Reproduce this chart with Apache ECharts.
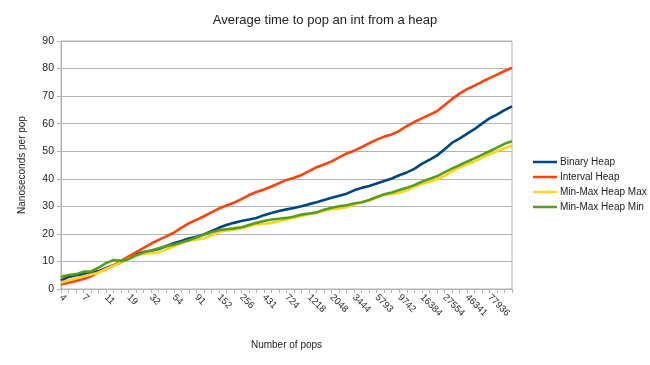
<!DOCTYPE html>
<html>
<head>
<meta charset="utf-8">
<script src="https://cdn.jsdelivr.net/npm/echarts@6/dist/echarts.min.js"></script>
<style>html,body{margin:0;padding:0;background:#fff}#c{width:650px;height:365px}</style>
</head>
<body>
<div id="c"></div>
<script>
const categories = [4,5,6,7,8,10,11,13,16,19,23,27,32,38,45,54,64,76,91,108,128,152,181,215,256,304,362,431,512,609,724,861,1024,1218,1448,1722,2048,2435,2896,3444,4096,4871,5793,6889,8192,9742,11585,13777,16384,19484,23170,27554,32768,38968,46341,55109,65536,77936,92682,110218,131072];
const binaryHeap = [3.1,4.4,5.0,5.3,5.9,6.5,7.6,8.6,9.7,11.0,12.5,13.4,13.9,14.5,15.6,16.6,17.4,18.3,19.0,19.8,21.0,22.2,23.2,24.0,24.7,25.2,25.8,26.8,27.6,28.3,28.9,29.4,30.0,30.8,31.5,32.3,33.1,33.8,34.6,35.8,36.7,37.4,38.3,39.2,40.1,41.3,42.3,43.6,45.4,46.9,48.4,50.6,53.0,54.6,56.3,58.0,60.0,61.9,63.3,64.9,66.3];
const intervalHeap = [1.6,2.3,2.9,3.6,4.6,6.2,7.2,8.6,10.2,11.8,13.4,14.9,16.5,17.8,19.1,20.4,22.2,23.8,25.1,26.4,27.8,29.2,30.3,31.3,32.6,34.1,35.2,36.1,37.2,38.4,39.6,40.4,41.4,42.8,44.2,45.2,46.3,47.8,49.2,50.2,51.5,52.9,54.2,55.3,56.1,57.4,59.1,60.6,61.9,63.2,64.5,66.7,68.9,70.9,72.5,73.8,75.2,76.5,77.8,79.1,80.3];
const minMaxHeapMax = [2.4,3.2,3.9,4.6,5.3,5.9,7.3,8.5,9.7,11.0,12.1,12.8,13.0,13.3,14.4,15.5,16.6,17.5,17.9,18.4,19.4,20.6,21.2,21.5,22.0,22.8,23.4,23.7,24.0,24.6,25.3,25.9,26.5,27.1,27.6,28.3,29.0,29.2,29.7,30.7,31.5,32.1,33.2,34.1,34.4,34.9,35.8,37.1,38.1,38.9,39.7,41.1,42.6,44.1,45.3,46.3,47.6,48.9,50.0,51.1,52.1];
const minMaxHeapMin = [4.4,5.1,5.4,6.3,6.4,7.8,9.4,10.5,10.2,10.9,12.2,13.3,14.0,14.8,15.5,16.1,16.9,17.7,18.7,19.8,20.6,21.3,21.7,22.0,22.4,23.2,24.0,24.7,25.2,25.5,25.8,26.3,27.0,27.4,27.8,28.8,29.5,30.0,30.4,31.0,31.5,32.3,33.4,34.4,35.0,35.9,36.7,37.7,38.9,39.9,40.9,42.3,43.7,44.9,46.2,47.4,48.7,50.0,51.3,52.7,53.6];
const seriesNames = ['Binary Heap','Interval Heap','Min-Max Heap Max','Min-Max Heap Min'];
const seriesColors = ['#004586','#ff420e','#ffd320','#579d1c'];
const seriesData = [binaryHeap, intervalHeap, minMaxHeapMax, minMaxHeapMin];

const chart = echarts.init(document.getElementById('c'), null, {renderer:'canvas'});
const font = 'Liberation Sans, Arial, sans-serif';
chart.setOption({
  animation: false,
  backgroundColor: '#ffffff',
  title: {
    text: 'Average time to pop an int from a heap',
    left: 'center', top: 9,
    textStyle: {fontFamily: font, fontSize: 13, fontWeight: 'normal', color: '#222'}
  },
  legend: {
    orient: 'vertical', left: 528, top: 152,
    itemWidth: 24, itemHeight: 10, itemGap: 5,
    data: seriesNames.map((n) => ({name: n, icon: 'path://M0,4 L24,4 L24,6.5 L0,6.5 Z'})),
    textStyle: {fontFamily: font, fontSize: 10, color: '#222', padding: [0,0,0,-2]}
  },
  grid: {left: 61, right: 138, top: 41, bottom: 76, show: true, borderColor: '#b3b3b3', borderWidth: 1},
  xAxis: {
    type: 'category', data: categories, boundaryGap: false,
    name: 'Number of pops', nameLocation: 'middle', nameGap: 51,
    nameTextStyle: {fontFamily: font, fontSize: 10, color: '#222'},
    axisLine: {lineStyle: {color: '#b3b3b3'}},
    axisTick: {show: true, interval: 0, length: 4, lineStyle: {color: '#b3b3b3'}},
    axisLabel: {
      rotate: -45, fontFamily: font, fontSize: 9.5, color: '#222', margin: 7,
      interval: (i) => i % 3 === 0 && i < 60
    },
    splitLine: {show: false}
  },
  yAxis: {
    type: 'value', min: 0, max: 90, interval: 10,
    name: 'Nanoseconds per pop', nameLocation: 'middle', nameGap: 34,
    nameTextStyle: {fontFamily: font, fontSize: 10, color: '#222'},
    axisLine: {show: true, lineStyle: {color: '#b3b3b3'}},
    axisTick: {show: true, length: 4, lineStyle: {color: '#b3b3b3'}},
    axisLabel: {fontFamily: font, fontSize: 10.5, color: '#222', margin: 7},
    splitLine: {show: true, lineStyle: {color: '#b3b3b3', width: 1}}
  },
  series: seriesNames.map((n, i) => ({
    name: n, type: 'line', data: seriesData[i],
    symbol: 'none', smooth: false,
    color: seriesColors[i],
    lineStyle: {width: 2.6, color: seriesColors[i]}
  }))
});
</script>
</body>
</html>
